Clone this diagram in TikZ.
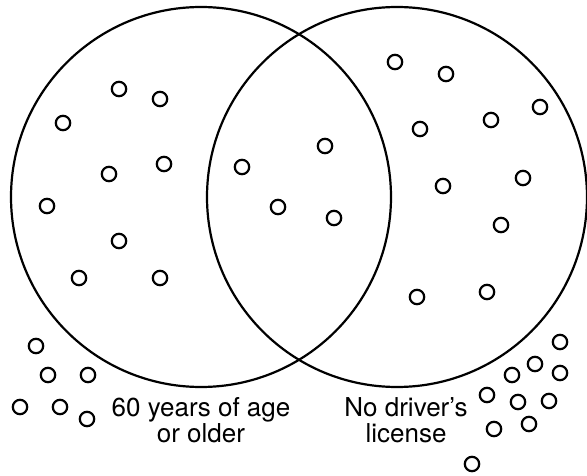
\documentclass[tikz,border=0pt]{standalone}
\usepackage{fontspec}
\setmainfont{TeX Gyre Heros}
\usetikzlibrary{positioning}
\tikzset{
  setcircle/.style={draw, circle, line width=2.2pt, minimum size=380pt, inner sep=0pt},
  member/.style={draw, circle, line width=2.2pt, minimum size=14.4pt, inner sep=0pt},
  setlabel/.style={align=center, inner sep=0pt, font=\fontsize{26}{26}\selectfont}
}

\begin{document}
\begin{tikzpicture}[x=1pt, y=-1pt]
  \useasboundingbox (0,0) rectangle (587,476);
  \node[setcircle] (older) at (201,197) {};
  \node[setcircle] (nolicense) at (397,197) {};
  % people inside and outside the two sets
  \foreach \px/\py [count=\i] in {
      119/89, 160/99, 63/123, 164/164, 109/174, 47/206, 119/241, 79/278, 160/278,
      242/167, 278/207, 325/146, 334/218,
      395/62, 446/74, 540/107, 491/120, 420/129, 523/178, 443/186, 501/225,
      417/297, 487/292,
      36/346, 48/375, 88/375, 20/407, 60/407, 87/419,
      560/342, 535/364, 512/375, 560/373, 487/395, 518/402, 549/401, 529/424,
      494/429, 472/464}
    \node[member] (p\i) at (\px,\py) {};
  \node[setlabel] (olderlabel) at (201,420) {60 years of age\\or older};
  \node[setlabel] (nolicenselabel) at (406,420) {No driver’s\\license};
\end{tikzpicture}
\end{document}
